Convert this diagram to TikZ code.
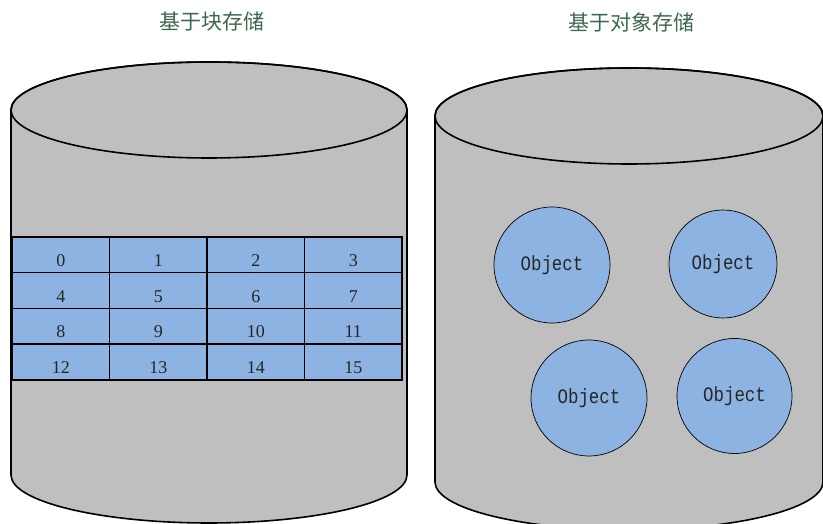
\documentclass[tikz,border=0pt]{standalone}
\usepackage{fontspec}
\setmainfont{Liberation Serif}
\setmonofont{Liberation Mono}[FakeStretch=0.85]
\newfontfamily\cjk{Noto Sans CJK SC}
\usetikzlibrary{positioning}

\definecolor{diskgray}{RGB}{191,191,191}
\definecolor{blockblue}{RGB}{141,179,226}
\definecolor{titlegreen}{RGB}{62,104,78}

\begin{document}
\begin{tikzpicture}[
  x=1pt, y=1pt,
  title/.style={font=\cjk\fontsize{21}{24}\selectfont, text=titlegreen},
  disk/.style={fill=diskgray, draw=black, line width=1.6pt},
  block/.style={draw=black, line width=1.5pt, fill=blockblue, minimum width=97.5pt,
    minimum height=35.75pt, inner sep=0pt, font=\fontsize{18}{20}\selectfont,
    text height=23pt, text depth=0pt, text=black!85},
  obj/.style={draw=black, line width=0.7pt, fill=blockblue, circle, inner sep=0pt,
    font=\ttfamily\fontsize{20.5}{22}\selectfont, text=black!85}
]
  \useasboundingbox (0,0) rectangle (823,524);

  % titles
  \node[title] (blocktitle) at (212,502) {基于块存储};
  \node[title] (objtitle) at (631,502) {基于对象存储};

  % block storage disk
  \path[disk] (11,414) -- (11,49)
    arc[start angle=180, end angle=360, x radius=198pt, y radius=48pt]
    -- (407,414) arc[start angle=0, end angle=180, x radius=198pt, y radius=48pt] -- cycle;
  \draw[line width=1.6pt] (209,414) ellipse [x radius=198pt, y radius=48pt];

  % object storage disk
  \path[disk] (435,408) -- (435,42)
    arc[start angle=180, end angle=360, x radius=194pt, y radius=48pt]
    -- (823,408) arc[start angle=0, end angle=180, x radius=194pt, y radius=48pt] -- cycle;
  \draw[line width=1.6pt] (629,408) ellipse [x radius=194pt, y radius=48pt];

  % the 4x4 block grid
  \foreach \r in {0,...,3}
    \foreach \c in {0,...,3} {
      \pgfmathtruncatemacro{\n}{4*\r+\c}
      \node[block] (cell-\n) at ({12+97.5*(\c+0.5)},{287-35.75*(\r+0.5)}) {\n};
    }

  % objects
  \node[obj, minimum size=116pt] (obja) at (552,259) {Object};
  \node[obj, minimum size=108pt] (objb) at (723,260) {Object};
  \node[obj, minimum size=116pt] (objc) at (589,126) {Object};
  \node[obj, minimum size=115pt] (objd) at (734.5,128) {Object};
\end{tikzpicture}
\end{document}
